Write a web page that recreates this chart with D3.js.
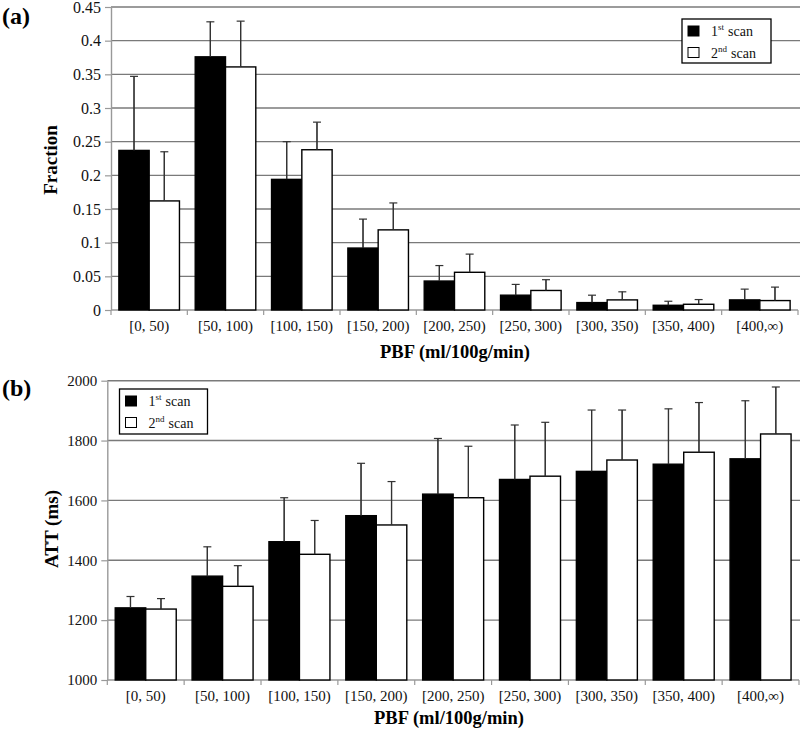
<!DOCTYPE html>
<html><head><meta charset="utf-8">
<script src="https://cdn.jsdelivr.net/npm/d3@7"></script>
<style>body{margin:0;background:#fff;} svg{display:block;font-family:"Liberation Serif","Times New Roman",serif;}</style>
</head><body>
<svg id="c" width="800" height="734"></svg>
<script>
const categories = ["[0, 50)","[50, 100)","[100, 150)","[150, 200)","[200, 250)","[250, 300)","[300, 350)","[350, 400)","[400,\u221e)"];
const seriesNames = ["1st","2nd"];
const fraction1 = [0.237,0.376,0.194,0.092,0.043,0.022,0.011,0.007,0.015];
const fraction1Err = [0.110,0.052,0.056,0.043,0.023,0.016,0.011,0.006,0.016];
const fraction2 = [0.162,0.361,0.238,0.119,0.056,0.029,0.015,0.0085,0.014];
const fraction2Err = [0.073,0.068,0.041,0.040,0.027,0.016,0.012,0.007,0.020];
const att1 = [1241,1347,1462,1549,1621,1670,1697,1721,1739];
const att1Err = [38,98,147,175,186,182,205,185,194];
const att2 = [1237,1313,1420,1518,1609,1681,1735,1761,1822];
const att2Err = [35,69,113,145,172,180,167,166,157];
const fractionTicks = [0,0.05,0.1,0.15,0.2,0.25,0.3,0.35,0.4,0.45];
const attTicks = [1000,1200,1400,1600,1800,2000];

const svg = d3.select("#c");
const GRID = "#7a7a7a";

function panel(o){
  const g = svg.append("g");
  const x0 = d3.scaleBand().domain(categories).range([o.left,o.right]).padding(0);
  const x1 = d3.scaleBand().domain(seriesNames).range([0,x0.bandwidth()]).paddingInner(0).paddingOuter(0.26);
  const y = d3.scaleLinear().domain(o.domain).range([o.bottom,o.top]);
  // gridlines
  g.append("g").selectAll("line").data(o.ticks.slice(1)).join("line")
    .attr("x1",o.left).attr("x2",800).attr("y1",d=>y(d)).attr("y2",d=>y(d))
    .attr("stroke",GRID).attr("stroke-width",1.4);
  // y axis
  const ya = g.append("g").attr("transform",`translate(${o.left},0)`)
    .call(d3.axisLeft(y).tickValues(o.ticks).tickSize(6).tickSizeOuter(0).tickFormat(o.fmt));
  ya.select(".domain").attr("stroke","#999").attr("stroke-width",1.4);
  ya.selectAll(".tick line").attr("stroke","#999").attr("stroke-width",1.2);
  ya.selectAll(".tick text").attr("font-family","Liberation Serif").attr("font-size",o.ytf).attr("fill","#111").attr("x",-10);
  // x axis
  g.append("line").attr("x1",o.left).attr("x2",o.right).attr("y1",o.bottom).attr("y2",o.bottom).attr("stroke","#999").attr("stroke-width",1.4);
  g.append("g").selectAll("line").data(d3.range(categories.length+1)).join("line")
    .attr("x1",i=>o.left+i*x0.step()).attr("x2",i=>o.left+i*x0.step())
    .attr("y1",o.bottom).attr("y2",o.bottom+5).attr("stroke","#999").attr("stroke-width",1.2);
  g.append("g").selectAll("text").data(categories).join("text")
    .attr("x",d=>x0(d)+x0.bandwidth()/2).attr("y",o.bottom+21)
    .attr("text-anchor","middle").attr("font-size",15).attr("fill","#111").text(d=>d);
  // bars
  const rows = categories.map((c,i)=>({c, vals:[{s:"1st",v:o.s1[i],e:o.e1[i]},{s:"2nd",v:o.s2[i],e:o.e2[i]}]}));
  const grp = g.append("g").selectAll("g").data(rows).join("g").attr("transform",d=>`translate(${x0(d.c)},0)`);
  // error bars
  grp.selectAll("g.err").data(d=>d.vals).join("g").attr("class","err").each(function(d){
    const cx = x1(d.s)+x1.bandwidth()/2;
    const s = d3.select(this);
    s.append("line").attr("x1",cx).attr("x2",cx).attr("y1",y(d.v)).attr("y2",y(d.v+d.e)).attr("stroke","#333").attr("stroke-width",1.2);
    s.append("line").attr("x1",cx-4).attr("x2",cx+4).attr("y1",y(d.v+d.e)).attr("y2",y(d.v+d.e)).attr("stroke","#333").attr("stroke-width",1.2);
  });
  grp.selectAll("rect").data(d=>d.vals).join("rect")
    .attr("x",d=>x1(d.s)).attr("width",x1.bandwidth())
    .attr("y",d=>y(d.v)).attr("height",d=>o.bottom-y(d.v))
    .attr("fill",d=>d.s==="1st"?"#000":"#fff")
    .attr("stroke","#000").attr("stroke-width",1.4);
  // redraw error bar stems above bars
  grp.selectAll("line.st").data(d=>d.vals).join("line").attr("class","st")
    .attr("x1",d=>x1(d.s)+x1.bandwidth()/2).attr("x2",d=>x1(d.s)+x1.bandwidth()/2)
    .attr("y1",d=>y(d.v)).attr("y2",d=>y(d.v+d.e)).attr("stroke","#333").attr("stroke-width",1.2);
  // labels
  svg.append("text").attr("x",2).attr("y",o.panelY).attr("font-size",24).attr("font-weight","bold").text(o.panel);
  svg.append("text").attr("transform",`translate(${o.ylx},${o.yly}) rotate(-90)`).attr("text-anchor","middle")
    .attr("font-size",19).attr("font-weight","bold").text(o.ylabel);
  svg.append("text").attr("x",o.xlx).attr("y",o.xly).attr("text-anchor","middle")
    .attr("font-size",18.5).attr("font-weight","bold").text("PBF (ml/100g/min)");
  // legend
  const L = o.legend;
  const lg = svg.append("g");
  lg.append("rect").attr("x",L.x).attr("y",L.y).attr("width",L.w).attr("height",L.h).attr("fill","#fff").attr("stroke","#000").attr("stroke-width",1.3);
  seriesNames.forEach((s,i)=>{
    const ry = L.y + 7 + i*21.5;
    lg.append("rect").attr("x",L.x+6).attr("y",ry).attr("width",11).attr("height",10)
      .attr("fill",i===0?"#000":"#fff").attr("stroke","#000").attr("stroke-width",1);
    const t = lg.append("text").attr("x",L.x+29).attr("y",ry+10).attr("font-size",14).attr("fill","#111");
    t.append("tspan").text(i===0?"1":"2");
    t.append("tspan").attr("font-size",9).attr("dy",-6).text(i===0?"st":"nd");
    t.append("tspan").attr("dy",6).attr("dx",4).text("scan");
  });
}

panel({left:111,right:798,top:7,bottom:310,domain:[0,0.45],ticks:fractionTicks,
  fmt:d=>d===0?"0":String(d),ytf:16,s1:fraction1,e1:fraction1Err,s2:fraction2,e2:fraction2Err,
  panel:"(a)",panelY:24,ylabel:"Fraction",ylx:57,yly:160,xlx:455,xly:358,
  legend:{x:682,y:19,w:89,h:44}});
panel({left:107.3,right:799,top:380.7,bottom:680,domain:[1000,2000],ticks:attTicks,
  fmt:d=>String(d),ytf:15,s1:att1,e1:att1Err,s2:att2,e2:att2Err,
  panel:"(b)",panelY:396,ylabel:"ATT (ms)",ylx:58,yly:529,xlx:449,xly:724,
  legend:{x:119.5,y:389,w:88,h:45}});
</script>
</body></html>
